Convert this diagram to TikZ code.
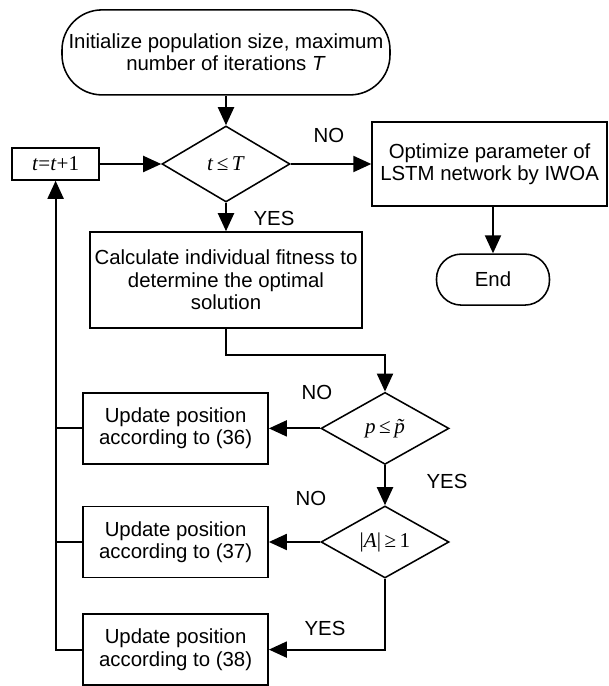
\documentclass[tikz,border=0pt]{standalone}
\usepackage{fontspec}
\setmainfont{Liberation Sans}
\newfontfamily\tnr{Liberation Serif}
\usetikzlibrary{shapes.geometric,arrows.meta}

\begin{document}
\begin{tikzpicture}[
	every node/.style={font=\fontsize{14.5}{16}\selectfont},
	proc_node/.style={rectangle,draw,line width=1.1pt,align=center,inner sep=2pt},
	term_node/.style={proc_node,rounded corners=#1},
	dec_node/.style={diamond,draw,line width=1.1pt,inner sep=0pt,minimum width=3.2cm,minimum height=1.8cm,font=\tnr\fontsize{15}{16}\selectfont},
	flow/.style={line width=1.4pt,-{Triangle[length=0.45cm,width=0.4cm]}},
	link/.style={line width=1.4pt}]
	\useasboundingbox (0,0) rectangle (15.2,17.15);

	\node[term_node=1cm,minimum width=8.2cm,minimum height=2.125cm] (init) at (5.65,15.84) {Initialize population size, maximum\\number of iterations \textit{T}};
	\node[dec_node,minimum height=1.9cm] (cond_t) at (5.65,13.05) {\textit{t}\,≤\,\textit{T}};
	\node[proc_node,minimum width=2.175cm,minimum height=0.8cm,font=\tnr\fontsize{15}{16}\selectfont] (incr) at (1.39,13.05) {\textit{t}=\textit{t}+1};
	\node[proc_node,minimum width=5.875cm,minimum height=2.1cm] (optim) at (12.24,13.05) {Optimize parameter of\\LSTM network by IWOA};
	\node[term_node=0.62cm,minimum width=2.825cm,minimum height=1.275cm] (fin) at (12.325,10.16) {End};
	\node[proc_node,minimum width=6.8cm,minimum height=2.4cm] (fit) at (5.65,10.15) {Calculate individual fitness to\\determine the optimal\\solution};
	\node[dec_node] (cond_p) at (9.625,6.44) {\textit{p}\,≤\,{\itshape\accent"02DC p}};
	\node[dec_node] (cond_a) at (9.625,3.6) {|\textit{A}|\,≥\,1};
	\node[proc_node,minimum width=4.625cm,minimum height=1.775cm] (upd_a) at (4.39,6.44) {Update position\\according to (36)};
	\node[proc_node,minimum width=4.625cm,minimum height=1.775cm] (upd_b) at (4.39,3.6) {Update position\\according to (37)};
	\node[proc_node,minimum width=4.625cm,minimum height=1.775cm] (upd_c) at (4.39,0.91) {Update position\\according to (38)};

	\node (no_t) at (8.225,13.775) {NO};
	\node (yes_t) at (6.85,11.7) {YES};
	\node (no_p) at (7.925,7.35) {NO};
	\node (yes_p) at (11.175,5.125) {YES};
	\node (no_a) at (7.775,4.7) {NO};
	\node (yes_a) at (8.125,1.45) {YES};

	\draw[flow] (init) -- (cond_t);
	\draw[flow] (incr) -- (cond_t);
	\draw[flow] (cond_t) -- (optim);
	\draw[flow] (optim.south -| fin.north) -- (fin);
	\draw[flow] (cond_t) -- (fit);
	\draw[flow] (fit.south) -- ++(0,-0.65) -| (cond_p.north);
	\draw[flow] (cond_p) -- (upd_a);
	\draw[flow] (cond_p) -- (cond_a);
	\draw[flow] (cond_a) -- (upd_b);
	\draw[flow] (cond_a.south) |- (upd_c.east);
	\draw[flow] (upd_c.west) -| (incr.south);
	\draw[link] (upd_a.west) -- (upd_a.west -| incr.south);
	\draw[link] (upd_b.west) -- (upd_b.west -| incr.south);
\end{tikzpicture}
\end{document}
